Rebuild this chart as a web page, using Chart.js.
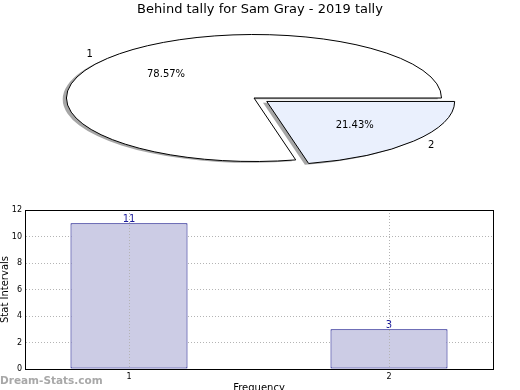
<!DOCTYPE html>
<html>
<head>
<meta charset="utf-8">
<script src="https://cdn.jsdelivr.net/npm/chart.js@4.4.0/dist/chart.umd.min.js"></script>
<style>
  html, body { margin: 0; padding: 0; background: #fff; overflow: hidden; }
  body { width: 520px; height: 390px; position: relative; }
  #pieChart { position: absolute; left: 0; top: 0; }
  #barChart { position: absolute; left: 0; top: 200px; }
  #watermark { position: absolute; left: 0; top: 374px; line-height: 12px;
               font: bold 10.5px "DejaVu Sans", sans-serif; color: #a8a8a8; }
</style>
</head>
<body>
<canvas id="pieChart" width="520" height="200"></canvas>
<canvas id="barChart" width="520" height="200"></canvas>
<div id="watermark">Dream-Stats.com</div>
<script>
// data
const chartTitle = 'Behind tally for Sam Gray - 2019 tally';
const categories = [1, 2];
const tallies = [11, 3];
const yTicks = [0, 2, 4, 6, 8, 10, 12];

Chart.defaults.font.family = '"DejaVu Sans", sans-serif';
Chart.defaults.color = '#000';

const total = tallies.reduce((a, b) => a + b, 0);
const pieRadius = 187.5;        // horizontal radius of the squashed pie
const squash = 63.5 / 187.5;    // vertical / horizontal
const pieShiftX = -6;
const explode = 0.087;          // pull-out of the second wedge, share of radius

// squash the pie into an ellipse, with a flat shadow behind the wedges
const ellipsePlugin = {
  id: 'ellipse',
  beforeDatasetsDraw(chart) {
    const ctx = chart.ctx;
    const arc = chart.getDatasetMeta(0).data[0];
    ctx.save();
    ctx.translate(arc.x + pieShiftX, arc.y);
    ctx.scale(1, squash);
    ctx.translate(-arc.x, -arc.y);
    ctx.shadowColor = 'rgba(77,77,77,0.5)';
    ctx.shadowOffsetX = -3.75;
    ctx.shadowOffsetY = 1.3;
    const stroke = CanvasRenderingContext2D.prototype.stroke;
    // keep outline 1px everywhere and without shadow
    ctx.stroke = function () {
      this.save();
      this.setTransform(1, 0, 0, 1, 0, 0);
      this.shadowColor = 'rgba(0,0,0,0)';
      stroke.call(this);
      this.restore();
    };
  },
  afterDatasetsDraw(chart) {
    const ctx = chart.ctx;
    delete ctx.stroke;
    ctx.restore();

    ctx.save();
    ctx.fillStyle = '#000';
    ctx.font = '10px "DejaVu Sans", sans-serif';
    ctx.textBaseline = 'middle';
    chart.getDatasetMeta(0).data.forEach((arc, i) => {
      const mid = (arc.startAngle + arc.endAngle) / 2;
      const cos = Math.cos(mid), sin = Math.sin(mid);
      const off = (arc.options.offset || 0) / 4;
      const cx = arc.x + pieShiftX + cos * off;
      const cy = arc.y + sin * off * squash;
      const r = arc.outerRadius;
      const pct = (tallies[i] / total * 100).toFixed(2) + '%';
      ctx.textAlign = 'center';
      ctx.fillText(pct, cx + 0.6 * r * cos, cy + 0.6 * r * sin * squash);
      ctx.textAlign = cos < 0 ? 'right' : 'left';
      ctx.fillText(String(categories[i]), cx + 1.1 * r * cos, cy + 1.1 * r * sin * squash);
    });
    ctx.restore();
  }
};

new Chart(document.getElementById('pieChart'), {
  type: 'pie',
  data: {
    labels: categories.map(String),
    datasets: [{
      data: tallies,
      backgroundColor: ['#ffffff', '#eaf0fd'],
      borderColor: '#000000',
      borderWidth: 1,
      borderJoinStyle: 'miter',
      offset: [0, explode * pieRadius * 4],
      radius: pieRadius,
      clip: false
    }]
  },
  options: {
    responsive: false,
    animation: false,
    rotation: 90 + 360 * (total - tallies[0]) / total,
    layout: { padding: { bottom: 23.6 } },
    plugins: {
      legend: { display: false },
      tooltip: { enabled: false },
      title: {
        display: true,
        text: chartTitle,
        color: '#000',
        font: { size: 13, weight: 'normal' },
        padding: { top: 2, bottom: 2 }
      }
    }
  },
  plugins: [ellipsePlugin]
});

// black box round the plot area
const framePlugin = {
  id: 'frame',
  afterDraw(chart) {
    const a = chart.chartArea;
    const ctx = chart.ctx;
    ctx.save();
    ctx.strokeStyle = '#000';
    ctx.lineWidth = 1;
    ctx.strokeRect(Math.round(a.left) + 0.5, Math.round(a.top) + 0.5,
                   Math.round(a.right) - Math.round(a.left), Math.round(a.bottom) - Math.round(a.top));
    ctx.restore();
  }
};

// value above each bar
const valueLabels = {
  id: 'valueLabels',
  afterDatasetsDraw(chart) {
    const ctx = chart.ctx;
    ctx.save();
    ctx.fillStyle = '#1c1c9c';
    ctx.font = '10px "DejaVu Sans", sans-serif';
    ctx.textAlign = 'center';
    ctx.textBaseline = 'alphabetic';
    chart.getDatasetMeta(0).data.forEach((bar, i) => {
      ctx.fillText(String(tallies[i]), bar.x, bar.y - 1);
    });
    ctx.restore();
  }
};

new Chart(document.getElementById('barChart'), {
  type: 'bar',
  data: {
    datasets: [{
      data: categories.map((c, i) => ({ x: c, y: tallies[i] })),
      backgroundColor: '#ccccE5',
      borderColor: '#000080',
      borderWidth: 1,
      borderSkipped: false,
      barPercentage: 0.45,
      categoryPercentage: 1
    }]
  },
  options: {
    responsive: false,
    animation: false,
    layout: { padding: { top: 10, right: 27, left: 0, bottom: 0 } },
    plugins: {
      legend: { display: false },
      tooltip: { enabled: false }
    },
    scales: {
      x: {
        type: 'linear',
        min: 0.6,
        max: 2.4,
        offset: false,
        afterBuildTicks: s => { s.ticks = categories.map(v => ({ value: v })); },
        afterFit: s => { s.height = 31; },
        ticks: { font: { size: 8 }, padding: 3, callback: v => String(v) },
        // vertical grid sits on top of the bars, as in the original
        grid: { color: '#b4b4b4', lineWidth: 1, drawTicks: false, offset: false, z: 1 },
        border: { color: '#000', width: 1, dash: [1, 2], z: 1 },
        title: { display: true, text: 'Frequency', font: { size: 10 }, padding: { top: 6, bottom: 6 } }
      },
      y: {
        min: 0,
        max: 12,
        afterBuildTicks: s => { s.ticks = yTicks.map(v => ({ value: v })); },
        afterFit: s => { s.width = 25; },
        ticks: { font: { size: 8 }, padding: 3 },
        grid: { color: '#b4b4b4', lineWidth: 1, drawTicks: false },
        border: { color: '#000', width: 1, dash: [1, 2] },
        title: { display: true, text: 'Stat Intervals', font: { size: 10 }, padding: { top: -1, bottom: 0 } }
      }
    }
  },
  plugins: [framePlugin, valueLabels]
});
</script>
</body>
</html>
